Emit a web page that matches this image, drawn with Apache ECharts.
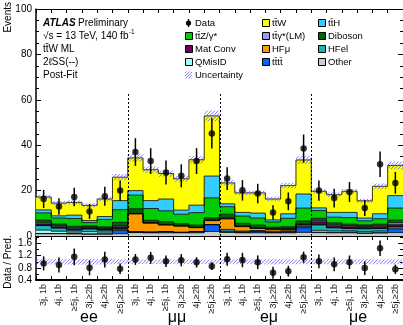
<!DOCTYPE html>
<html>
<head>
<meta charset="utf-8">
<script src="https://cdn.jsdelivr.net/npm/echarts@6/dist/echarts.min.js"></script>
<style>
  html, body { margin: 0; padding: 0; background: #fff; }
  #c { width: 403px; height: 325px; }
</style>
</head>
<body>
<div id="c"></div>
<script>
// Regions: four lepton-flavour channels, six jet/b-jet bins each
const channels = ['ee', 'μμ', 'eμ', 'μe'];
const binLabels = ['3j, 1b', '4j, 1b', '≥5j, 1b', '3j,≥2b', '4j,≥2b', '≥5j,≥2b'];
const categories = channels.flatMap(() => binLabels);

// Post-fit event yields per bin (stacked from bottom to top)
const other   = [1.0, 1.0, 0.9, 0.8, 0.8, 1.0,  1.5, 1.4, 1.4, 1.4, 1.4, 2.0,  1.6, 1.4, 1.4, 1.4, 1.4, 1.6,  1.5, 1.4, 1.4, 1.2, 1.3, 1.5];
const tttt    = [0.1, 0.1, 0.2, 0.1, 0.2, 1.4,  0.3, 0.3, 0.5, 0.2, 0.5, 3.0,  0.2, 0.2, 0.5, 0.1, 0.3, 2.0,  0.2, 0.2, 0.4, 0.1, 0.4, 1.5];
const qMisID  = [1.5, 1.0, 0.6, 1.0, 0.7, 0.4,  0.0, 0.0, 0.0, 0.0, 0.0, 0.0,  0.3, 0.2, 0.2, 0.2, 0.2, 0.3,  0.8, 0.6, 0.5, 0.6, 0.5, 0.4];
const hfEl    = [2.0, 1.4, 0.9, 1.2, 0.9, 0.5,  0.0, 0.0, 0.0, 0.0, 0.0, 0.0,  0.8, 0.4, 0.3, 0.4, 0.4, 0.4,  2.4, 1.4, 1.0, 1.3, 1.1, 0.7];
const hfMu    = [0.1, 0.1, 0.1, 0.1, 0.1, 0.2,  8.0, 4.0, 3.0, 2.8, 1.8, 1.8,  4.6, 1.9, 0.9, 0.8, 0.6, 0.5,  0.1, 0.1, 0.1, 0.1, 0.1, 0.1];
const matConv = [0.6, 0.4, 0.4, 0.5, 0.4, 0.6,  0.0, 0.0, 0.0, 0.0, 0.0, 0.0,  0.3, 0.2, 0.2, 0.2, 0.2, 0.3,  1.2, 0.8, 0.6, 0.7, 0.7, 0.8];
const ttgLM   = [0.5, 0.4, 0.4, 0.3, 0.3, 0.5,  0.2, 0.2, 0.2, 0.2, 0.2, 0.3,  0.2, 0.2, 0.2, 0.2, 0.2, 0.3,  0.5, 0.4, 0.4, 0.3, 0.4, 0.8];
const diboson = [1.2, 0.9, 0.8, 0.5, 0.6, 1.4,  2.0, 1.0, 1.2, 0.8, 0.9, 0.9,  1.6, 1.1, 1.1, 0.6, 0.8, 1.2,  1.1, 0.9, 0.8, 0.6, 0.7, 1.2];
const ttZ     = [3.2, 2.6, 3.4, 1.4, 3.3, 5.6,  6.0, 5.2, 4.8, 4.2, 5.5, 8.8,  3.3, 3.2, 3.1, 2.3, 3.7, 5.7,  3.4, 2.5, 2.9, 1.8, 2.4, 5.3];
const ttH     = [1.3, 1.0, 1.5, 0.9, 1.3, 4.0,  2.0, 3.5, 5.2, 1.8, 3.3, 9.6,  1.3, 1.6, 2.2, 0.9, 2.0, 6.2,  1.2, 2.1, 2.3, 1.2, 2.2, 5.5];
const ttW     = [5.7, 5.6, 5.6, 6.7, 7.7, 10.3, 14.4, 13.6, 11.2, 13.8, 20.0, 26.5, 9.2, 8.6, 8.9, 9.2, 12.4, 15.0, 7.3, 7.8, 9.3, 7.6, 12.1, 13.3];

// Total background uncertainty per bin
const bkgUnc  = [1.0, 0.9, 0.9, 0.9, 1.0, 1.4,  1.6, 1.4, 1.4, 1.3, 1.6, 2.4,  1.2, 1.0, 1.0, 1.0, 1.2, 1.8,  1.1, 1.0, 1.0, 0.9, 1.2, 1.7];

// Observed data and its statistical error
const dataObs = [16.3, 13.0, 17.2, 10.8, 17.5, 20.0, 37.0, 33.0, 28.0, 26.5, 33.0, 45.2, 25.3, 20.1, 18.7, 10.4, 15.3, 38.5, 20.0, 16.7, 19.4, 12.3, 31.6, 23.4];
const dataErr = [4.0, 3.6, 4.1, 3.3, 4.2, 4.5,  6.1, 5.7, 5.3, 5.1, 5.7, 6.7,  5.0, 4.5, 4.3, 3.2, 3.9, 6.2,  4.5, 4.1, 4.4, 3.5, 5.6, 4.8];

// Axis ticks
const yTicksMain = [0, 20, 40, 60, 80, 100];
const yTicksRatio = [0.4, 0.8, 1.2, 1.6];

const FONT = 'Liberation Sans, Arial, Helvetica, sans-serif';
const HATCH = '#5a5aff';
const TT = 'tt\u0304';

const stack = [
  { name: 'Other', values: other, color: '#cccccc' },
  { name: TT + TT, values: tttt, color: '#0066ff' },
  { name: 'QMisID', values: qMisID, color: '#99ffff' },
  { name: 'HFel', values: hfEl, color: '#1ab5b5' },
  { name: 'HFμ', values: hfMu, color: '#ff9900' },
  { name: 'Mat Conv', values: matConv, color: '#660066' },
  { name: TT + 'γ*(LM)', values: ttgLM, color: '#9999ff' },
  { name: 'Diboson', values: diboson, color: '#006600' },
  { name: TT + 'Z/γ*', values: ttZ, color: '#00cc00' },
  { name: TT + 'H', values: ttH, color: '#33ccff' },
  { name: TT + 'W', values: ttW, color: '#ffff00' }
];

// Cumulative bounds of each stacked component
let base = categories.map(() => 0);
stack.forEach(c => {
  c.lo = base.slice();
  c.hi = base.map((b, i) => b + c.values[i]);
  base = c.hi;
});
const total = base;
const ratio = dataObs.map((d, i) => d / total[i]);
const ratioErr = dataErr.map((e, i) => e / total[i]);

function hatchLines(x0, x1, yTop, yBot, step) {
  const out = [];
  const cStart = Math.ceil((x0 + yTop) / step) * step;
  for (let c = cStart; c <= x1 + yBot; c += step) {
    const xa = Math.max(x0, c - yBot), xb = Math.min(x1, c - yTop);
    if (xb > xa) {
      out.push({ type: 'line', shape: { x1: xa, y1: c - xa, x2: xb, y2: c - xb },
        style: { stroke: HATCH, lineWidth: 0.8 } });
    }
  }
  return out;
}

const series = [];

// Stacked filled histograms
stack.forEach(c => {
  series.push({
    type: 'custom', name: c.name, xAxisIndex: 0, yAxisIndex: 0, z: 2, silent: true,
    data: c.values.map((v, i) => [i, c.lo[i], c.hi[i]]),
    encode: { x: 0, y: [1, 2] },
    renderItem: (p, api) => {
      const i = api.value(0);
      const a = api.coord([i, api.value(1)]);
      const b = api.coord([i, api.value(2)]);
      const w = api.size([1, 0])[0];
      return { type: 'rect', shape: { x: a[0] - w / 2 - 0.2, y: b[1], width: w + 0.4, height: a[1] - b[1] },
        style: { fill: c.color } };
    }
  });
});

// Step outlines of the stack
const outlineData = [];
stack.forEach(c => {
  c.hi.forEach((h, i) => outlineData.push([i, h, i > 0 ? c.hi[i - 1] : h]));
});
series.push({
  type: 'custom', xAxisIndex: 0, yAxisIndex: 0, z: 3, silent: true,
  data: outlineData, encode: { x: 0, y: 1 },
  renderItem: (p, api) => {
    const i = api.value(0);
    const w = api.size([1, 0])[0];
    const a = api.coord([i, api.value(1)]);
    const prev = api.coord([i, api.value(2)]);
    const left = a[0] - w / 2, right = a[0] + w / 2;
    return { type: 'polyline', shape: { points: [[left, prev[1]], [left, a[1]], [right, a[1]]] },
      style: { stroke: '#000', lineWidth: 0.8, fill: null } };
  }
});

// Uncertainty band (hatched) on the total
series.push({
  type: 'custom', xAxisIndex: 0, yAxisIndex: 0, z: 4, silent: true,
  data: total.map((t, i) => [i, t - bkgUnc[i], t + bkgUnc[i]]),
  encode: { x: 0, y: [1, 2] },
  renderItem: (p, api) => {
    const i = api.value(0);
    const w = api.size([1, 0])[0];
    const a = api.coord([i, api.value(1)]);
    const b = api.coord([i, api.value(2)]);
    return { type: 'group', children: hatchLines(a[0] - w / 2, a[0] + w / 2, b[1], a[1], 3.5) };
  }
});

// Ratio panel uncertainty band
series.push({
  type: 'custom', xAxisIndex: 2, yAxisIndex: 2, z: 4, silent: true,
  data: total.map((t, i) => [i, 1 - bkgUnc[i] / t, 1 + bkgUnc[i] / t]),
  encode: { x: 0, y: [1, 2] },
  renderItem: (p, api) => {
    const i = api.value(0);
    const w = api.size([1, 0])[0];
    const a = api.coord([i, api.value(1)]);
    const b = api.coord([i, api.value(2)]);
    return { type: 'group', children: hatchLines(a[0] - w / 2, a[0] + w / 2, b[1] - 0.8, a[1] + 0.8, 3.5) };
  }
});

// Channel separators
const edges = channels.slice(1).map((_, k) => (k + 1) * binLabels.length);
function separator(xi, yi, lo, hi) {
  return {
    type: 'custom', xAxisIndex: xi, yAxisIndex: yi, z: 6, silent: true,
    data: edges.map(e => [e, lo, hi]), encode: { x: 0, y: [1, 2] },
    renderItem: (p, api) => {
      const w = api.size([1, 0])[0];
      const a = api.coord([api.value(0), api.value(1)]);
      const b = api.coord([api.value(0), api.value(2)]);
      const x = Math.round(a[0] - w / 2) + 0.5;
      return { type: 'line', shape: { x1: x, y1: a[1], x2: x, y2: b[1] },
        style: { stroke: '#000', lineWidth: 1, lineDash: [2, 2] } };
    }
  };
}
series.push(separator(0, 0, 0, 63));
series.push(separator(2, 2, 0.4, 1.85));

// Data points with error bars
function dataSeries(xi, yi, vals, errs) {
  return [{
    type: 'custom', xAxisIndex: xi, yAxisIndex: yi, z: 7, silent: true,
    data: vals.map((v, i) => [i, v - errs[i], v + errs[i]]), encode: { x: 0, y: [1, 2] },
    renderItem: (p, api) => {
      const a = api.coord([api.value(0), api.value(1)]);
      const b = api.coord([api.value(0), api.value(2)]);
      return { type: 'line', shape: { x1: a[0], y1: a[1], x2: b[0], y2: b[1] },
        style: { stroke: '#000', lineWidth: 1.5 } };
    }
  }, {
    type: 'scatter', xAxisIndex: xi, yAxisIndex: yi, z: 8, silent: true,
    symbol: 'circle', symbolSize: 6.5, itemStyle: { color: '#000' },
    data: vals.map((v, i) => [i, v])
  }];
}
series.push(...dataSeries(0, 0, dataObs, dataErr));
series.push(...dataSeries(2, 2, ratio, ratioErr));

// Text helpers
const mctx = document.createElement('canvas').getContext('2d');
function textWidth(t, font) { mctx.font = font; return mctx.measureText(t).width; }

function txt(x, y, text, size, extra) {
  return Object.assign({ type: 'text', x, y, silent: true, z: 20,
    style: Object.assign({ text, fontSize: size, fontFamily: FONT, fill: '#000',
      align: 'left', verticalAlign: 'middle' }, extra || {}) });
}

const graphics = [];
// Experiment label block
const rowY = [23, 36, 49, 62, 75];
graphics.push(txt(43, rowY[0], 'ATLAS', 10, { fontWeight: 'bold', fontStyle: 'italic' }));
graphics.push(txt(43 + textWidth('ATLAS', 'italic bold 10px ' + FONT) + 2.5, rowY[0], 'Preliminary', 10));
const energy = '√s = 13 TeV, 140 fb';
graphics.push(txt(43, rowY[1], energy, 10));
graphics.push(txt(43 + textWidth(energy, '10px ' + FONT) + 0.5, rowY[1] - 3.5, '-1', 6.5));
graphics.push(txt(43, rowY[2], TT + 'W ML', 10));
graphics.push(txt(43, rowY[3], '2ℓSS(--)', 10));
graphics.push(txt(43, rowY[4], 'Post-Fit', 10));

// Legend
const legendCols = [
  { x: 185, items: ['Data', TT + 'Z/γ*', 'Mat Conv', 'QMisID', 'Uncertainty'] },
  { x: 262, items: [TT + 'W', TT + 'γ*(LM)', 'HFμ', TT + TT] },
  { x: 318, items: [TT + 'H', 'Diboson', 'HFel', 'Other'] }
];
const colorOf = {};
stack.forEach(c => { colorOf[c.name] = c.color; });
legendCols.forEach(col => {
  col.items.forEach((name, r) => {
    const y = rowY[r];
    if (name === 'Data') {
      graphics.push({ type: 'line', silent: true, z: 20, shape: { x1: col.x + 3.5, y1: y - 4, x2: col.x + 3.5, y2: y + 4 },
        style: { stroke: '#000', lineWidth: 1.3 } });
      graphics.push({ type: 'circle', silent: true, z: 20, shape: { cx: col.x + 3.5, cy: y, r: 2.6 }, style: { fill: '#000' } });
    } else if (name === 'Uncertainty') {
      graphics.push({ type: 'group', silent: true, z: 20, children: hatchLines(col.x, col.x + 7, y - 3.5, y + 3.5, 3) });
    } else {
      graphics.push({ type: 'rect', silent: true, z: 20, shape: { x: col.x + 0.5, y: y - 3.5, width: 7, height: 7 },
        style: { fill: colorOf[name], stroke: '#000', lineWidth: 1 } });
    }
    graphics.push(txt(col.x + 10, y, name, 9.5));
  });
});

// Axis titles
graphics.push(txt(8, 2, 'Events', 10, { align: 'right' }));
graphics[graphics.length - 1].rotation = Math.PI / 2;
graphics.push(txt(8, 262, 'Data / Pred.', 10, { align: 'center' }));
graphics[graphics.length - 1].rotation = Math.PI / 2;

// Channel names below the bin labels
const channelX = [89, 177, 269, 358];
channels.forEach((c, k) => graphics.push(txt(channelX[k], 318, c, 16, { align: 'center' })));

const catAxis = (grid, pos, showLabels, lineWidth) => ({
  type: 'category', gridIndex: grid, position: pos, data: categories, boundaryGap: true,
  axisLine: { show: true, onZero: false, lineStyle: { color: '#000', width: lineWidth } },
  axisTick: { show: true, inside: true, length: 4, interval: 0, lineStyle: { color: '#000' } },
  axisLabel: showLabels ? { show: true, interval: 0, rotate: 90, margin: 4, fontSize: 9, fontFamily: FONT, color: '#222' } : { show: false },
  splitLine: { show: false }
});

const valAxis = (grid, pos, min, max, interval, minorSplit, ticks, showLabels, lineWidth) => ({
  type: 'value', gridIndex: grid, position: pos, min, max, interval,
  axisLine: { show: true, lineStyle: { color: '#000', width: lineWidth } },
  axisTick: { show: true, inside: true, length: 5, lineStyle: { color: '#000' } },
  minorTick: { show: true, splitNumber: minorSplit, length: 3, lineStyle: { color: '#000' } },
  splitLine: { show: false },
  axisLabel: showLabels ? {
    show: true, margin: 4, fontSize: 10, fontFamily: FONT, color: '#000', showMaxLabel: ticks.length > 0 && max === ticks[ticks.length - 1],
    formatter: v => {
      const t = ticks.find(k => Math.abs(k - v) < 1e-6);
      return t === undefined ? '' : String(interval < 1 ? t.toFixed(1) : t);
    }
  } : { show: false }
});

const option = {
  animation: false,
  backgroundColor: '#fff',
  grid: [
    { left: 36, top: 9, width: 367, height: 227 },
    { left: 36, top: 236, width: 367, height: 44 }
  ],
  xAxis: [
    catAxis(0, 'bottom', false, 1),
    catAxis(0, 'top', false, 1),
    catAxis(1, 'bottom', true, 2),
    catAxis(1, 'top', false, 1)
  ],
  yAxis: [
    valAxis(0, 'left', 0, 100, 20, 4, yTicksMain, true, 1.5),
    valAxis(0, 'right', 0, 100, 20, 4, yTicksMain, false, 1),
    valAxis(1, 'left', 0.4, 1.85, 0.4, 2, yTicksRatio, true, 1.5),
    valAxis(1, 'right', 0.4, 1.85, 0.4, 2, yTicksRatio, false, 1)
  ],
  series,
  graphic: graphics
};

const chart = echarts.init(document.getElementById('c'), null, { renderer: 'canvas', width: 403, height: 325 });
chart.setOption(option);
</script>
</body>
</html>
